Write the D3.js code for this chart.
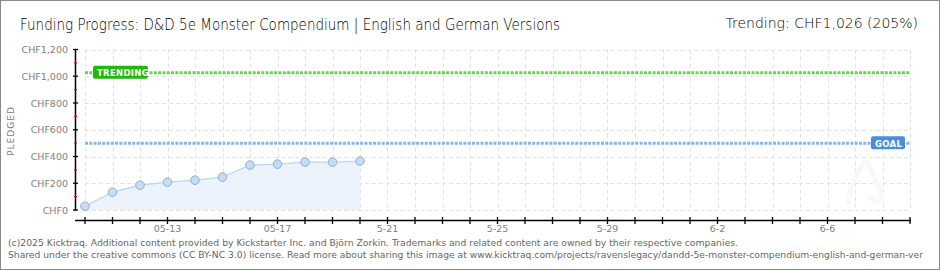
<!DOCTYPE html>
<html>
<head>
<meta charset="utf-8">
<script src="https://cdn.jsdelivr.net/npm/d3@7"></script>
<style>
  body { margin: 0; background: #fff; }
  svg text { font-family: "DejaVu Sans", sans-serif; }
</style>
</head>
<body>
<div id="chart"></div>
<script>
// Daily pledge totals (CHF)
var days = ["2025-05-10","2025-05-11","2025-05-12","2025-05-13","2025-05-14","2025-05-15",
            "2025-05-16","2025-05-17","2025-05-18","2025-05-19","2025-05-20"];
var pledged = [28, 133, 185, 208, 223, 246, 336, 343, 358, 358, 366];

var goal = 500;
var trending = 1026;

var yTicks = [0, 200, 400, 600, 800, 1000, 1200];
var yMinor = [100, 300, 500, 700, 900, 1100];

// labelled x ticks (as printed on the chart)
var xLabelDays = ["2025-05-13","2025-05-17","2025-05-21","2025-05-25","2025-05-29","2025-06-02","2025-06-06"];
var xLabels = ["05-13","05-17","5-21","5-25","5-29","6-2","6-6"];

var W = 940, H = 270;
var parse = d3.timeParse("%Y-%m-%d");

var svg = d3.select("#chart").append("svg")
  .attr("width", W).attr("height", H);

// frame
svg.append("rect").attr("x", 0.5).attr("y", 0.5).attr("width", W - 1).attr("height", H - 1)
  .attr("fill", "#fff").attr("stroke", "#888");

var x = d3.scaleTime()
  .domain([parse("2025-05-10"), parse("2025-06-09")])
  .range([85, 910]);

var y = d3.scaleLinear()
  .domain([0, 1200])
  .range([210, 49.5]);

var allDays = d3.timeDay.range(parse("2025-05-10"), d3.timeDay.offset(parse("2025-06-09"), 1));

// grid
svg.append("g").selectAll("line").data(allDays).enter().append("line")
  .attr("x1", function(d){ return Math.round(x(d)) + 0.5; })
  .attr("x2", function(d){ return Math.round(x(d)) + 0.5; })
  .attr("y1", y(1200)).attr("y2", y(0))
  .attr("stroke", "#e2e2e2").attr("stroke-dasharray", "4,3");

svg.append("g").selectAll("line").data(yTicks).enter().append("line")
  .attr("x1", 85).attr("x2", 910)
  .attr("y1", function(d){ return Math.round(y(d)) + 0.5; })
  .attr("y2", function(d){ return Math.round(y(d)) + 0.5; })
  .attr("stroke", "#e2e2e2").attr("stroke-dasharray", "4,3");

// faint watermark
svg.append("path")
  .attr("d", "M848,205 C850,185 858,170 866,160 M866,160 C872,170 878,185 882,195 C884,202 876,204 870,196")
  .attr("fill", "none").attr("stroke", "#f8f8f8").attr("stroke-width", 5);

// area + line
var pts = days.map(function(d, i){ return {date: parse(d), v: pledged[i]}; });

svg.append("path").datum(pts)
  .attr("d", d3.area().x(function(d){ return x(d.date); }).y0(y(0)).y1(function(d){ return y(d.v); }))
  .attr("fill", "#ecf3fc");

svg.append("path").datum(pts)
  .attr("d", d3.line().x(function(d){ return x(d.date); }).y(function(d){ return y(d.v); }))
  .attr("fill", "none").attr("stroke", "#bcd6f2").attr("stroke-width", 1.3);

// goal + trending lines
svg.append("line")
  .attr("x1", 85).attr("x2", 910).attr("y1", y(goal)).attr("y2", y(goal))
  .attr("stroke", "#86b6e8").attr("stroke-width", 3).attr("stroke-dasharray", "3,1.3");

svg.append("line")
  .attr("x1", 85).attr("x2", 910).attr("y1", y(trending)).attr("y2", y(trending))
  .attr("stroke", "#6ad355").attr("stroke-width", 3).attr("stroke-dasharray", "3,1.3");

// points
svg.append("g").selectAll("circle").data(pts).enter().append("circle")
  .attr("cx", function(d){ return x(d.date); })
  .attr("cy", function(d){ return y(d.v); })
  .attr("r", 4.3)
  .attr("fill", "#c4dcf6").attr("stroke", "#95aecb").attr("stroke-width", 1);

// y axis
svg.append("line").attr("x1", 75.5).attr("x2", 75.5).attr("y1", y(1200)).attr("y2", y(0) + 1)
  .attr("stroke", "#000").attr("stroke-width", 1.5);

svg.append("g").selectAll("line").data(yTicks).enter().append("line")
  .attr("x1", 73).attr("x2", 78)
  .attr("y1", function(d){ return y(d); }).attr("y2", function(d){ return y(d); })
  .attr("stroke", "#000").attr("stroke-width", 1.3);

svg.append("g").selectAll("line").data(yMinor).enter().append("line")
  .attr("x1", 74).attr("x2", 77)
  .attr("y1", function(d){ return y(d); }).attr("y2", function(d){ return y(d); })
  .attr("stroke", "#e00").attr("stroke-width", 1);

svg.append("g").selectAll("text").data(yTicks).enter().append("text")
  .attr("x", 68).attr("y", function(d){ return y(d) + 3.5; })
  .attr("text-anchor", "end")
  .attr("font-size", 9.5).attr("fill", "#808080")
  .text(function(d){ return "CHF" + d3.format(",")(d); });

svg.append("text")
  .attr("transform", "translate(14,131) rotate(-90)")
  .attr("text-anchor", "middle").attr("font-size", 9).attr("fill", "#7a7a7a")
  .attr("letter-spacing", 1)
  .text("PLEDGED");

// x axis
svg.append("line").attr("x1", 75).attr("x2", 911).attr("y1", 220.5).attr("y2", 220.5)
  .attr("stroke", "#000").attr("stroke-width", 1.5);

svg.append("g").selectAll("line").data(allDays).enter().append("line")
  .attr("x1", function(d){ return x(d); }).attr("x2", function(d){ return x(d); })
  .attr("y1", 217).attr("y2", 224)
  .attr("stroke", "#000").attr("stroke-width", 1.3);

svg.append("g").selectAll("text").data(xLabelDays).enter().append("text")
  .attr("x", function(d){ return x(parse(d)); }).attr("y", 232)
  .attr("text-anchor", "middle").attr("font-size", 9.5).attr("fill", "#808080")
  .text(function(d, i){ return xLabels[i]; });

// tag boxes
function tag(xp, yv, w, label, color) {
  var g = svg.append("g");
  g.append("rect").attr("x", xp).attr("y", y(yv) - 7).attr("width", w).attr("height", 13)
    .attr("rx", 2).attr("fill", color);
  g.append("text").attr("x", xp + 4).attr("y", y(yv) + 3.5)
    .attr("font-size", 8.5).attr("font-weight", "bold").attr("fill", "#fff")
    .attr("letter-spacing", 0.3)
    .text(label);
}
tag(93, trending, 55, "TRENDING", "#1fb90a");
tag(871, goal, 34, "GOAL", "#4b8fd8");

// titles
svg.append("text").attr("x", 20).attr("y", 30)
  .attr("font-family", "DejaVu Sans Condensed, DejaVu Sans").attr("font-size", 16)
  .attr("font-weight", 300).attr("fill", "#000")
  .attr("textLength", 540).attr("lengthAdjust", "spacingAndGlyphs")
  .text("Funding Progress: D&D 5e Monster Compendium | English and German Versions");

svg.append("text").attr("x", 918).attr("y", 28)
  .attr("text-anchor", "end")
  .attr("font-family", "DejaVu Sans Condensed, DejaVu Sans").attr("font-size", 14)
  .attr("font-weight", 300).attr("fill", "#000")
  .text("Trending:  CHF1,026 (205%)");

// footer
svg.append("text").attr("x", 8).attr("y", 246)
  .attr("font-family", "DejaVu Sans Condensed, DejaVu Sans")
  .attr("font-size", 9.5).attr("fill", "#666")
  .attr("textLength", 730).attr("lengthAdjust", "spacingAndGlyphs")
  .text("(c)2025 Kicktraq. Additional content provided by Kickstarter Inc. and Björn Zorkin. Trademarks and related content are owned by their respective companies.");

svg.append("text").attr("x", 8).attr("y", 258)
  .attr("font-family", "DejaVu Sans Condensed, DejaVu Sans")
  .attr("font-size", 8.8).attr("fill", "#666")
  .attr("textLength", 915).attr("lengthAdjust", "spacingAndGlyphs")
  .text("Shared under the creative commons (CC BY-NC 3.0) license. Read more about sharing this image at www.kicktraq.com/projects/ravenslegacy/dandd-5e-monster-compendium-english-and-german-ver");
</script>
</body>
</html>
